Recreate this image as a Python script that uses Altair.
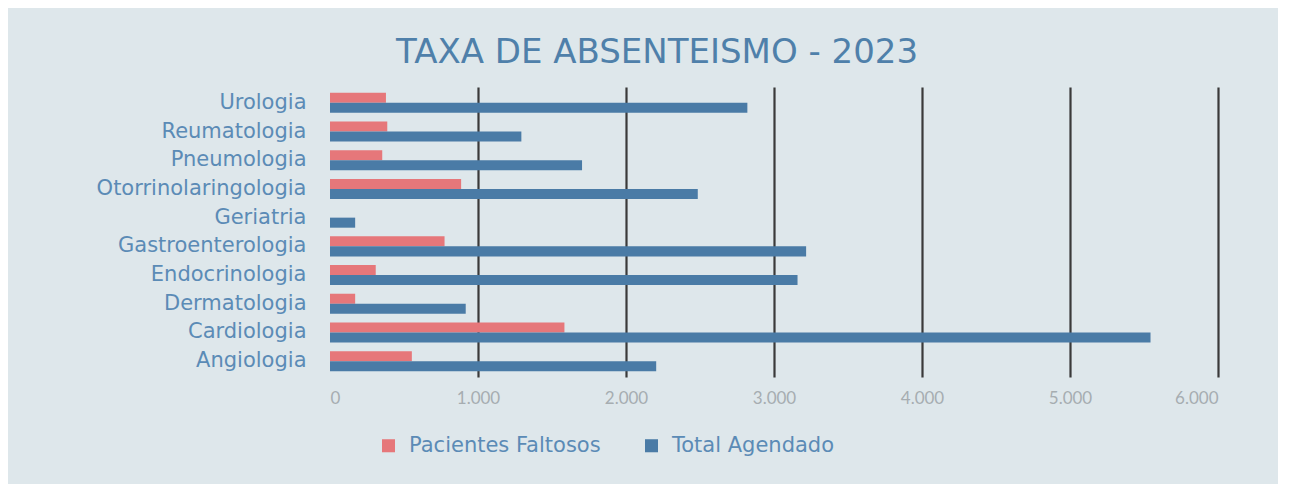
import altair as alt
import pandas as pd

categorias = ["Urologia", "Reumatologia", "Pneumologia", "Otorrinolaringologia", "Geriatria",
              "Gastroenterologia", "Endocrinologia", "Dermatologia", "Cardiologia", "Angiologia"]
faltosos = [378, 387, 353, 886, 0, 774, 309, 170, 1584, 553]
agendado = [2820, 1293, 1703, 2485, 170, 3217, 3159, 917, 5544, 2204]
series = ["Pacientes Faltosos", "Total Agendado"]
ticks = [0, 1000, 2000, 3000, 4000, 5000, 6000]

rows = []
for c, f, t in zip(categorias, faltosos, agendado):
    rows.append({"Especialidade": c, "Serie": series[0], "Valor": f})
    rows.append({"Especialidade": c, "Serie": series[1], "Valor": t})
df = pd.DataFrame(rows)

font = "DejaVu Sans"
bg = "#DEE7EB"

chart = alt.Chart(df).mark_bar().encode(
    y=alt.Y("Especialidade:N", sort=categorias, title=None,
            scale=alt.Scale(paddingInner=0.3, paddingOuter=0.2),
            axis=alt.Axis(labelFontSize=21, labelColor="#5B8BB6", labelFont=font,
                          ticks=False, domain=False, labelPadding=24, labelLimit=400,
                          minExtent=232, maxExtent=232)),
    yOffset=alt.YOffset("Serie:N", sort=series),
    x=alt.X("Valor:Q", title=None,
            scale=alt.Scale(domain=[0, 6000], nice=False),
            axis=alt.Axis(values=ticks, grid=True, gridColor="#3A3A3A", gridWidth=2.2,
                          gridOpacity={"condition": {"test": "datum.value === 0", "value": 0}, "value": 1},
                          domain=False, ticks=False, labelPadding=13,
                          labelFontSize=17, labelColor="#A6ADB1", labelFont="Lato",
                          labelExpr="replace(format(datum.value, ','), ',', '.')")),
    color=alt.Color("Serie:N", sort=series,
                    scale=alt.Scale(domain=series, range=["#E6777A", "#4A7BA6"]),
                    legend=alt.Legend(orient="none", legendX=48, legendY=348, title=None,
                                      direction="horizontal", labelLimit=400,
                                      symbolType="square", symbolSize=170, labelFontSize=21,
                                      labelColor="#5B8BB6", labelFont=font, columnPadding=40,
                                      labelOffset=10)),
).properties(
    width=888, height=290,
    title=alt.TitleParams("TAXA DE ABSENTEISMO - 2023", fontSize=34, font=font,
                          fontWeight="normal", color="#4F80AA", anchor="middle",
                          frame="bounds", offset=17),
    background=bg,
    padding={"left": 88, "top": 28, "right": 60, "bottom": 28},
).configure_view(stroke=None)

chart.save("out.html", embed_options={"renderer": "svg", "actions": False})
